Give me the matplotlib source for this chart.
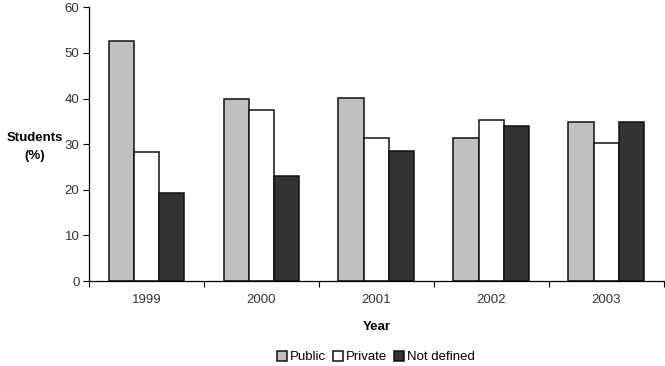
import matplotlib
matplotlib.use("Agg")
import matplotlib.pyplot as plt
import numpy as np

# ── Data ──────────────────────────────────────────────────────────────────────
years       = ["1999", "2000", "2001", "2002", "2003"]
public      = [52.7, 39.9, 40.2, 31.3, 34.9]
private     = [28.2, 37.4, 31.3, 35.2, 30.2]
not_defined = [19.4, 23.1, 28.6, 33.9, 34.9]

series_names  = ["Public", "Private", "Not defined"]
series_colors = ["#c0c0c0", "#ffffff", "#333333"]

plt.rcParams["font.family"] = ["Liberation Sans", "DejaVu Sans"]
FS = 9.5

fig = plt.figure(figsize=(6.65, 3.66), dpi=100, facecolor="white")
ax = fig.add_axes([0.134, 0.232, 0.864, 0.748])

x = np.arange(len(years))
w = 0.22
for i, (vals, name, col) in enumerate(zip([public, private, not_defined],
                                          series_names, series_colors)):
    ax.bar(x + (i - 1) * w, vals, width=w, color=col, edgecolor="#111111",
           linewidth=1.1, label=name)

ax.set_xlim(-0.5, len(years) - 0.5)
ax.set_ylim(0, 60)
ax.set_yticks(range(0, 61, 10))

# year labels at centers, tick marks at category boundaries
ax.set_xticks(x)
ax.set_xticklabels(years, fontsize=FS, color="#333333")
ax.tick_params(axis="x", which="major", length=0, pad=9)
ax.set_xticks(np.arange(-0.5, len(years)), minor=True)
ax.tick_params(axis="x", which="minor", length=4, width=0.8, direction="out")
ax.tick_params(axis="y", length=4, width=0.8, labelsize=FS,
               labelcolor="#333333", pad=3)

for s in ["top", "right"]:
    ax.spines[s].set_visible(False)
for s in ["left", "bottom"]:
    ax.spines[s].set_linewidth(0.9)

ax.set_xlabel("Year", fontsize=FS, fontweight="bold", labelpad=11)
ax.set_ylabel("Students\n(%)", fontsize=FS, fontweight="bold",
              rotation=0, ha="center", va="center", linespacing=1.6)
ax.yaxis.set_label_coords(-0.095, 0.49)

fig.legend(loc="lower center", bbox_to_anchor=(0.565, -0.025), ncol=3,
           frameon=False, fontsize=FS, handlelength=0.8, handleheight=0.8,
           handletextpad=0.2, columnspacing=0.5)

fig.savefig("out.png", dpi=100, facecolor="white")
